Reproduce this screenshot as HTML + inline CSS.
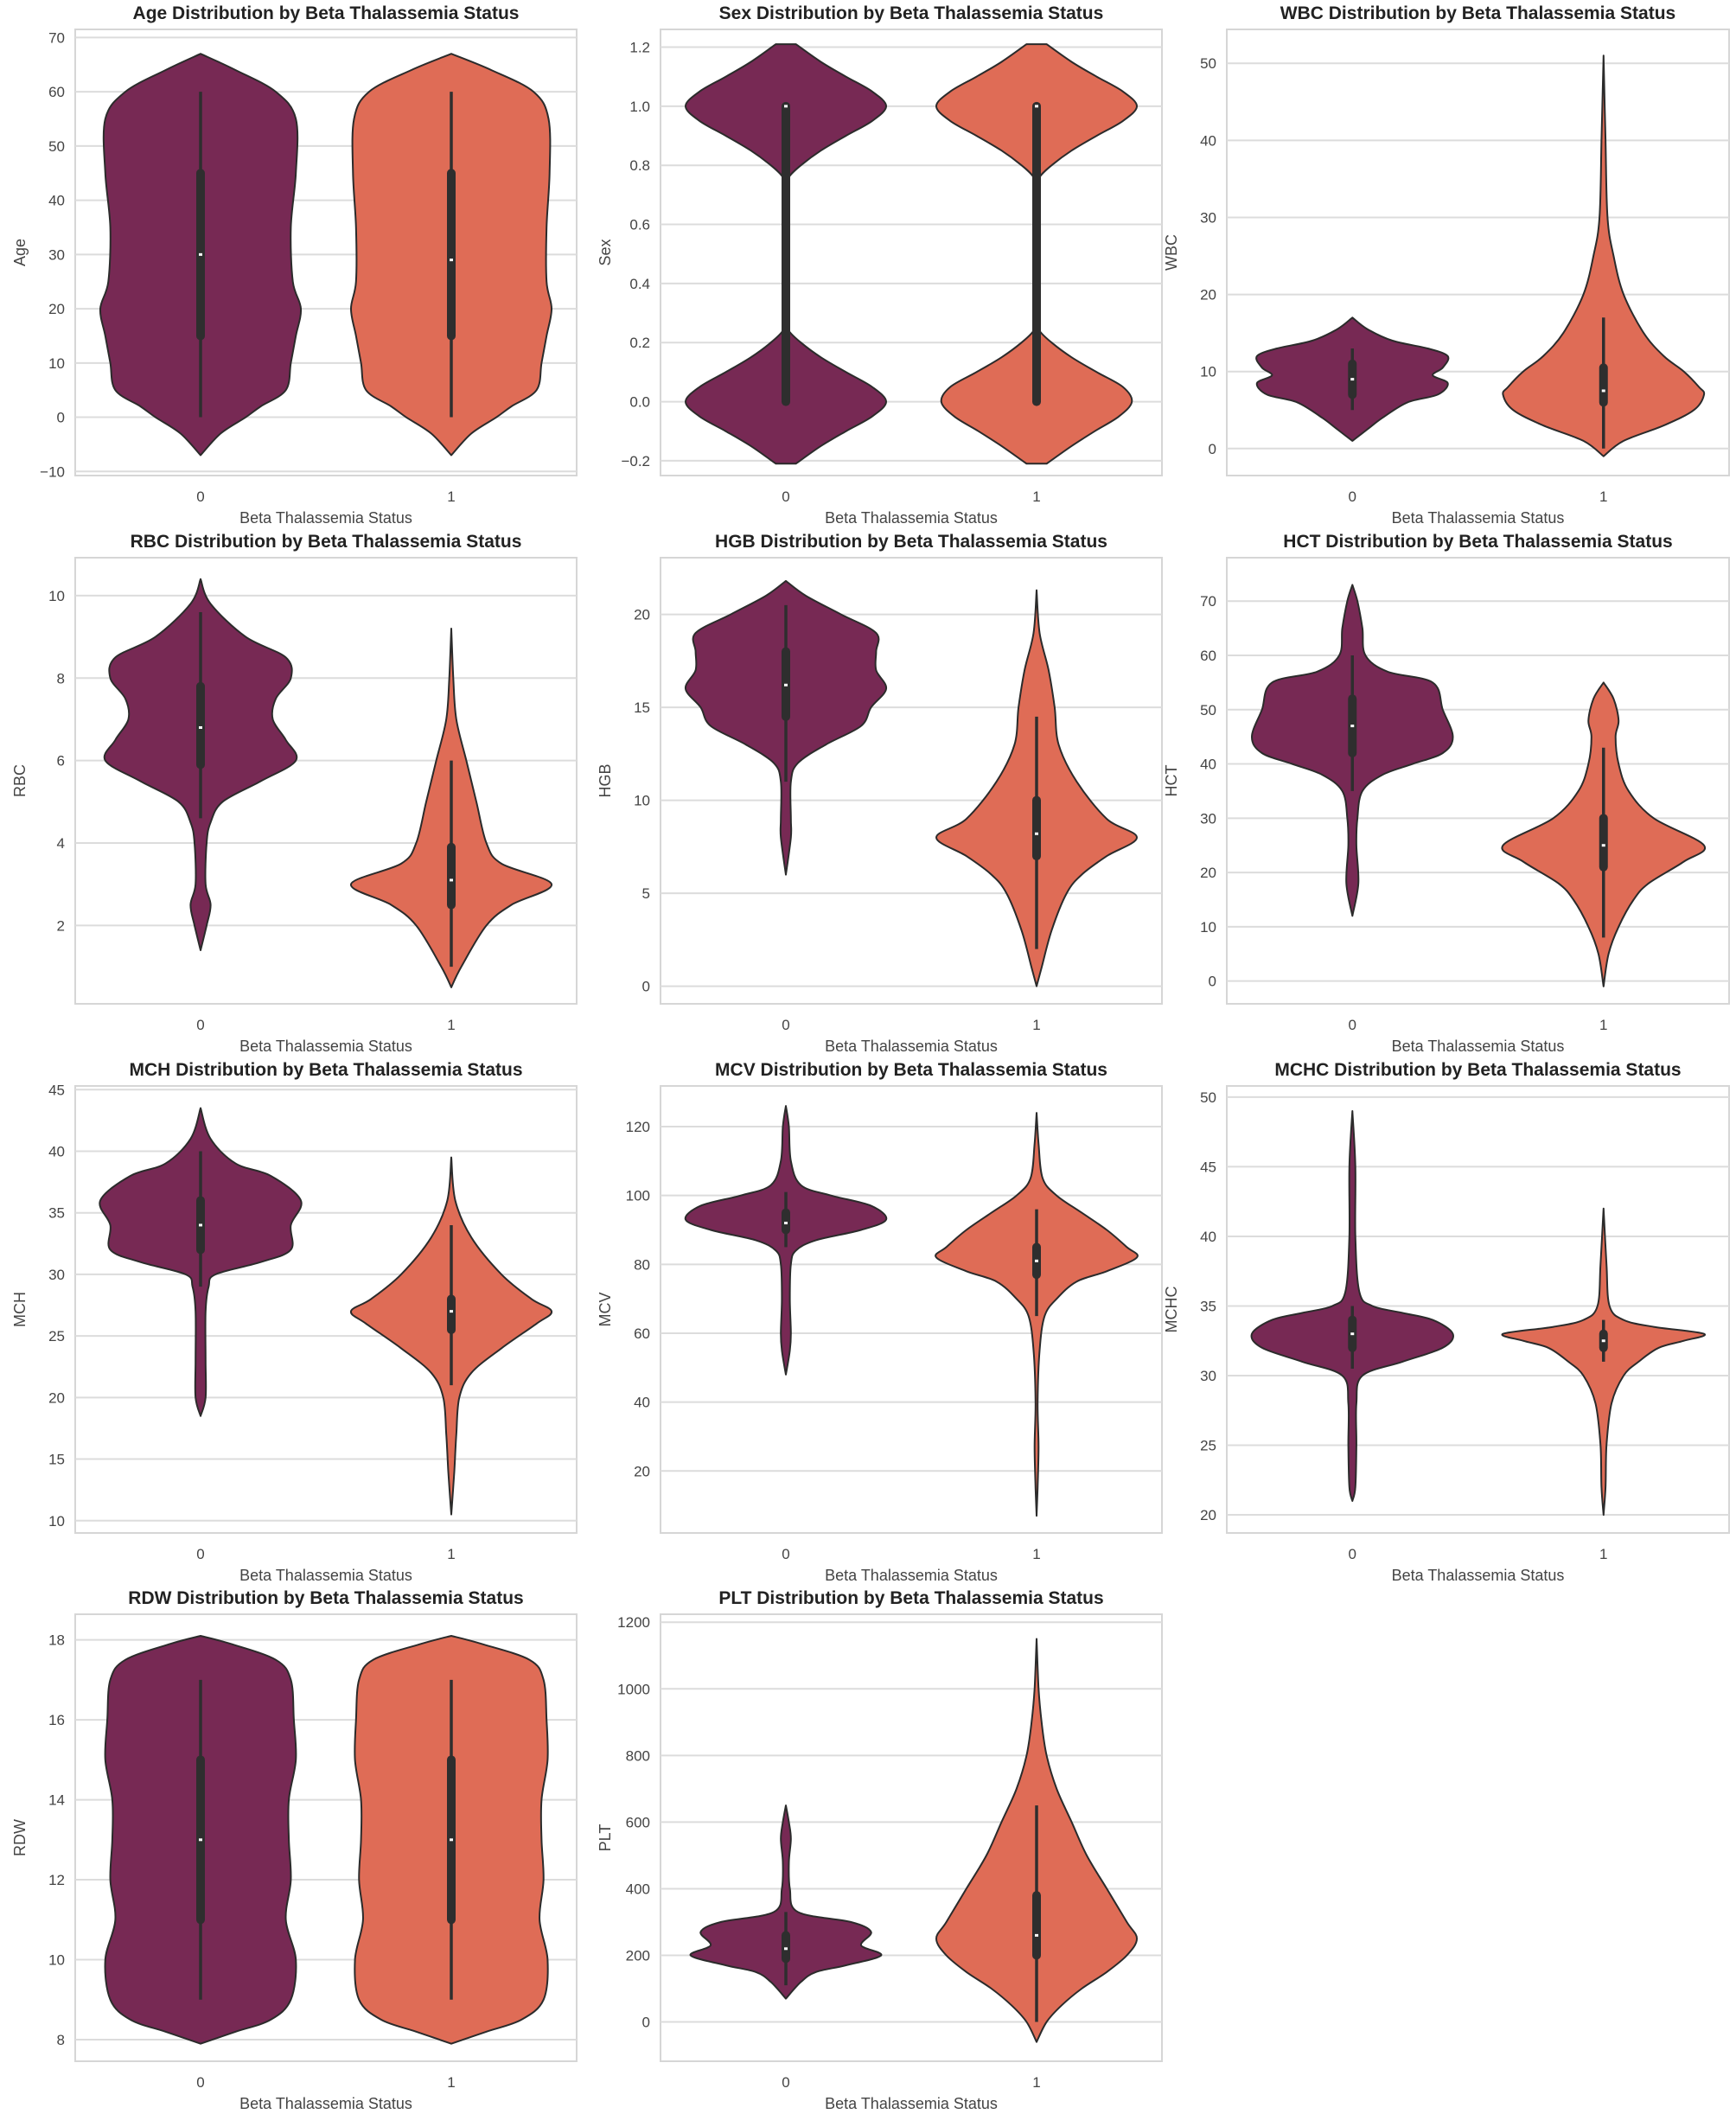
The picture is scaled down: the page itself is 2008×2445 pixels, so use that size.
<!DOCTYPE html>
<html><head><meta charset="utf-8">
<style>
html,body{margin:0;padding:0;background:#fff;}
svg{display:block;font-family:"Liberation Sans","DejaVu Sans",sans-serif;}
</style></head>
<body>
<svg id="chart" width="2008" height="2445" viewBox="0 0 2008 2445" xmlns="http://www.w3.org/2000/svg"></svg>
<script>
const categories = ["0","1"];
const panelNames = ["Age","Sex","WBC","RBC","HGB","HCT","MCH","MCV","MCHC","RDW","PLT"];
const yLimits = [[-10.75,71.5],[-0.25,1.26],[-3.5,54.4],[0.1,10.92],[-0.95,23.05],[-4.2,78],[9,45.3],[2,131.8],[18.7,50.8],[7.46,18.64],[-118,1224]];
const yTicks = [
 [-10,0,10,20,30,40,50,60,70],
 [-0.2,0.0,0.2,0.4,0.6,0.8,1.0,1.2],
 [0,10,20,30,40,50],
 [2,4,6,8,10],
 [0,5,10,15,20],
 [0,10,20,30,40,50,60,70],
 [10,15,20,25,30,35,40,45],
 [20,40,60,80,100,120],
 [20,25,30,35,40,45,50],
 [8,10,12,14,16,18],
 [0,200,400,600,800,1000,1200]
];
// violin profiles: [value, relative density]
const profiles0 = [
 [[67,0],[64,0.35],[60,0.75],[55,0.95],[45,0.95],[35,0.9],[25,0.92],[20,1.0],[15,0.95],[10,0.9],[5,0.85],[2,0.6],[0,0.45],[-3,0.2],[-7,0]],
 [[1.21,0.1],[1.15,0.35],[1.1,0.6],[1.05,0.86],[1.0,1.0],[0.95,0.86],[0.9,0.6],[0.85,0.35],[0.8,0.15],[0.76,0.03],[0.72,0],[0.28,0],[0.24,0.03],[0.2,0.15],[0.15,0.35],[0.1,0.6],[0.05,0.86],[0.0,1.0],[-0.05,0.86],[-0.1,0.6],[-0.15,0.35],[-0.21,0.1]],
 [[17,0],[15.5,0.15],[14,0.4],[13,0.75],[12,0.95],[10.5,0.9],[9.5,0.8],[8.5,0.95],[7,0.85],[6,0.55],[4,0.3],[2.5,0.15],[1,0]],
 [[10.4,0],[9.8,0.1],[9,0.45],[8.5,0.85],[8,0.9],[7.5,0.75],[7,0.72],[6.5,0.85],[6,0.95],[5.5,0.6],[5,0.22],[4.5,0.1],[4,0.06],[3,0.05],[2.5,0.1],[2,0.06],[1.4,0]],
 [[21.8,0],[21,0.2],[20,0.55],[19,0.9],[18,0.9],[17,0.9],[16,1.0],[15,0.85],[14,0.75],[13,0.4],[12,0.12],[11,0.05],[9,0.05],[8,0.05],[6,0]],
 [[73,0],[70,0.05],[65,0.1],[60,0.13],[57,0.35],[55,0.8],[50,0.9],[45,1.0],[42,0.9],[40,0.6],[38,0.3],[35,0.1],[30,0.05],[25,0.04],[18,0.06],[12,0]],
 [[43.5,0],[41,0.1],[39,0.35],[38,0.7],[36,1.0],[34,0.9],[32,0.9],[31,0.6],[30,0.15],[29,0.08],[27,0.05],[23,0.05],[20,0.05],[18.5,0]],
 [[126,0],[120,0.03],[110,0.05],[103,0.15],[100,0.45],[97,0.85],[93,1.0],[90,0.75],[87,0.3],[84,0.1],[80,0.05],[70,0.04],[60,0.05],[55,0.04],[48,0]],
 [[49,0],[45,0.03],[40,0.03],[36,0.07],[35,0.2],[34.5,0.5],[34,0.8],[33,1.0],[32,0.9],[31,0.5],[30,0.1],[28,0.04],[25,0.04],[22,0.03],[21,0]],
 [[18.1,0],[17.9,0.3],[17.5,0.75],[17,0.9],[16,0.93],[15,0.95],[14,0.88],[13,0.88],[12,0.9],[11,0.85],[10,0.95],[9,0.9],[8.5,0.7],[8.2,0.35],[7.9,0]],
 [[650,0],[600,0.03],[550,0.05],[480,0.03],[400,0.04],[330,0.12],[300,0.65],[270,0.85],[230,0.75],[200,0.95],[170,0.6],[150,0.3],[120,0.15],[70,0]]
];
const profiles1 = [
 [[67,0],[64,0.4],[60,0.82],[55,0.97],[45,0.98],[35,0.95],[25,0.95],[20,1.0],[15,0.95],[10,0.9],[5,0.85],[2,0.6],[0,0.45],[-3,0.2],[-7,0]],
 [[1.21,0.1],[1.15,0.35],[1.1,0.6],[1.05,0.86],[1.0,1.0],[0.95,0.86],[0.9,0.6],[0.85,0.35],[0.8,0.15],[0.76,0.03],[0.72,0],[0.28,0],[0.24,0.03],[0.2,0.15],[0.15,0.35],[0.1,0.6],[0.05,0.86],[0.0,0.95],[-0.05,0.82],[-0.1,0.58],[-0.15,0.35],[-0.21,0.1]],
 [[51,0],[40,0.02],[30,0.04],[25,0.1],[20,0.2],[15,0.4],[12,0.6],[10,0.8],[8,0.95],[7,1.0],[5,0.9],[3,0.6],[1,0.2],[-1,0]],
 [[9.2,0],[8,0.02],[7,0.05],[6,0.15],[5,0.25],[4,0.35],[3.5,0.5],[3,1.0],[2.5,0.6],[2,0.35],[1,0.1],[0.5,0]],
 [[21.3,0],[19,0.03],[17,0.12],[15,0.18],[13,0.22],[11,0.4],[9,0.7],[8,1.0],[7,0.7],[6,0.45],[5,0.3],[3,0.15],[1,0.05],[0,0]],
 [[55,0],[52,0.1],[48,0.15],[45,0.12],[40,0.15],[35,0.25],[30,0.5],[25,1.0],[22,0.8],[18,0.45],[15,0.3],[10,0.15],[5,0.05],[-1,0]],
 [[39.5,0],[36,0.04],[33,0.2],[30,0.5],[28,0.8],[27,1.0],[26,0.85],[24,0.5],[22,0.2],[20,0.08],[17,0.05],[14,0.03],[10.5,0]],
 [[124,0],[115,0.02],[105,0.06],[100,0.2],[95,0.45],[90,0.7],[85,0.9],[82,1.0],[78,0.7],[75,0.4],[70,0.2],[65,0.08],[55,0.03],[40,0.01],[27,0.02],[15,0.01],[7,0]],
 [[42,0],[38,0.03],[35,0.06],[34,0.2],[33.5,0.5],[33,1.0],[32.5,0.8],[32,0.55],[31,0.35],[30,0.2],[28,0.08],[25,0.03],[22,0.02],[20,0]],
 [[18.1,0],[17.9,0.3],[17.5,0.78],[17,0.92],[16,0.95],[15,0.96],[14,0.9],[13,0.9],[12,0.92],[11,0.88],[10,0.96],[9,0.92],[8.5,0.7],[8.2,0.35],[7.9,0]],
 [[1150,0],[1000,0.02],[900,0.05],[800,0.1],[700,0.2],[600,0.35],[500,0.5],[400,0.7],[300,0.9],[250,1.0],[200,0.9],[150,0.7],[100,0.45],[50,0.25],[0,0.1],[-60,0]]
];
// box stats: [lowWhisker, q1, median, q3, highWhisker]
const boxes0 = [[0,15,30,45,60],[0,0,1,1,1],[5,7,9,11,13],[4.6,5.9,6.8,7.8,9.6],[11,14.5,16.2,18,20.5],[35,42,47,52,60],[29,32,34,36,40],[85,90,92,95,101],[30.5,32,33,34,35],[9,11,13,15,17],[110,190,220,260,330]];
const boxes1 = [[0,15,29,45,60],[0,0,1,1,1],[0,6,7.5,10.5,17],[1,2.5,3.1,3.9,6],[2,7,8.2,10,14.5],[8,21,25,30,43],[21,25.5,27,28,34],[65,77,81,85,96],[31,32,32.5,33,34],[9,11,13,15,17],[0,200,260,380,650]];

const svg = document.getElementById('chart');
const NS = 'http://www.w3.org/2000/svg';
const colX = [[87,667],[764,1344],[1419,2000]];
const rowY = [[34,550],[645,1161],[1256,1773],[1867,2384]];
const colors = ['#772954','#df6c56'];
function mk(tag, attrs, parent){const e=document.createElementNS(NS,tag);for(const k in attrs)e.setAttribute(k,attrs[k]);(parent||svg).appendChild(e);return e;}
function fmt(v,ticks){const dec=ticks.some(t=>Math.abs(t-Math.round(t))>1e-9)?1:0;return (v<0?'\u2212':'')+Math.abs(v).toFixed(dec);}
function smoothPath(pts){let d='M'+pts[0][0].toFixed(1)+','+pts[0][1].toFixed(1);for(let i=0;i<pts.length-1;i++){const p0=pts[Math.max(0,i-1)],p1=pts[i],p2=pts[i+1],p3=pts[Math.min(pts.length-1,i+2)];const c1=[p1[0]+(p2[0]-p0[0])/6,p1[1]+(p2[1]-p0[1])/6];const c2=[p2[0]-(p3[0]-p1[0])/6,p2[1]-(p3[1]-p1[1])/6];d+=' C'+c1[0].toFixed(1)+','+c1[1].toFixed(1)+' '+c2[0].toFixed(1)+','+c2[1].toFixed(1)+' '+p2[0].toFixed(1)+','+p2[1].toFixed(1);}return d;}

panelNames.forEach((name,pi)=>{
  const c=pi%3, r=Math.floor(pi/3);
  const [x0,x1]=colX[c], [y0,y1]=rowY[r];
  const [lo,hi]=yLimits[pi];
  const ys=v=>y1-(v-lo)/(hi-lo)*(y1-y0);
  const xs=i=>x0+(x1-x0)*(0.25+0.5*i);
  const halfMax=(x1-x0)*0.2;
  const g=mk('g',{});
  
  
  const bg=mk('rect',{x:x0,y:y0,width:x1-x0,height:y1-y0,fill:'#fff',stroke:'#d6d6d6','stroke-width':2},g);
  
  
  yTicks[pi].forEach(t=>{
    const y=ys(t);
    const gl=mk('line',{x1:x0,x2:x1,y1:y,y2:y,stroke:'#dcdcdc','stroke-width':2},g);
    
    
    const tl=mk('text',{x:x0-12,y:y+6,'text-anchor':'end','font-size':17,fill:'#444'},g);
    
    
    tl.textContent=fmt(t,yTicks[pi]);
  });
  [profiles0[pi],profiles1[pi]].forEach((prof,gi)=>{
    const cx=xs(gi);
    const right=prof.map(p=>[cx+p[1]*halfMax,ys(p[0])]);
    const left=prof.slice().reverse().map(p=>[cx-p[1]*halfMax,ys(p[0])]);
    const d=smoothPath(right)+' '+smoothPath(left).replace('M','L')+' Z';
    const v=mk('path',{d:d,fill:colors[gi],stroke:'#2b2b2b','stroke-width':2,'stroke-linejoin':'round'},g);
    
    
    const b=gi===0?boxes0[pi]:boxes1[pi];
    const wl=mk('line',{x1:cx,x2:cx,y1:ys(b[0]),y2:ys(b[4]),stroke:'#2e2e2e','stroke-width':3.5},g);
    
    
    const bx=mk('line',{x1:cx,x2:cx,y1:ys(b[1]),y2:ys(b[3]),stroke:'#2e2e2e','stroke-width':10,'stroke-linecap':'round'},g);
    
    
    const md=mk('line',{x1:cx-2,x2:cx+2,y1:ys(b[2]),y2:ys(b[2]),stroke:'#fff','stroke-width':3},g);
    
    
    const xl=mk('text',{x:cx,y:y1+30,'text-anchor':'middle','font-size':17,fill:'#444'},g);
    
    
    xl.textContent=categories[gi];
  });
  const t=mk('text',{x:(x0+x1)/2,y:y0-12,'text-anchor':'middle','font-size':21,'font-weight':'bold',fill:'#222'},g);
  
  
  t.textContent=name+' Distribution by Beta Thalassemia Status';
  const xt=mk('text',{x:(x0+x1)/2,y:y1+55,'text-anchor':'middle','font-size':18,fill:'#444'},g);
  
  
  xt.textContent='Beta Thalassemia Status';
  const yl=mk('text',{x:0,y:0,'text-anchor':'middle','font-size':18,fill:'#444',transform:'translate('+(x0-58)+','+((y0+y1)/2)+') rotate(-90)'},g);
  
  
  yl.textContent=name;
});
</script>
</body></html>
